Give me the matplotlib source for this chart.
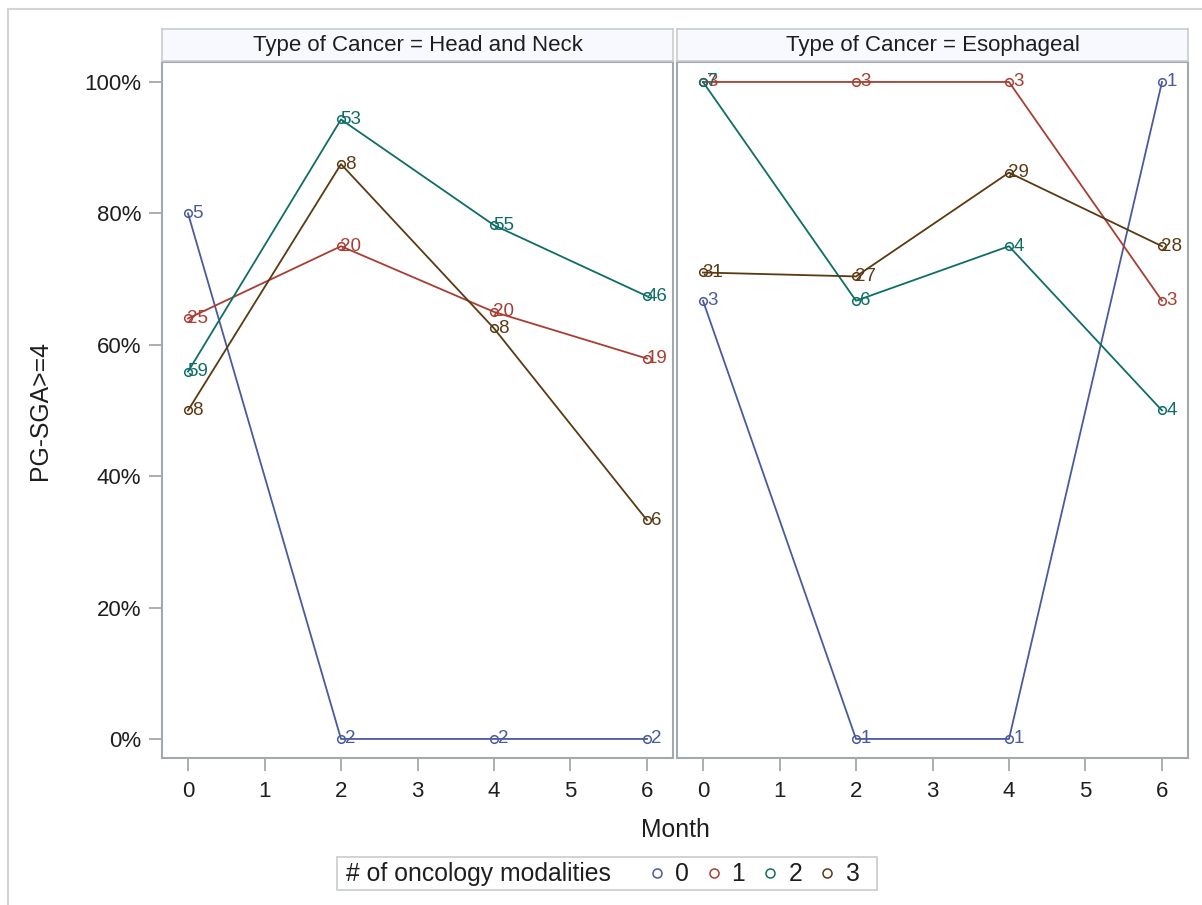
"""
Panel line chart: share of patients with PG-SGA>=4 by month, per cancer type.
"""
import matplotlib
matplotlib.use("Agg")
import matplotlib.pyplot as plt
from matplotlib.lines import Line2D
from matplotlib.patches import Rectangle
from matplotlib.ticker import PercentFormatter
from matplotlib.offsetbox import (AnchoredOffsetbox, DrawingArea, HPacker,
                                  TextArea)

plt.rcParams['font.family'] = ['Liberation Sans', 'DejaVu Sans']

months = [0, 2, 4, 6]
modalities = ['0', '1', '2', '3']
colors = ['#4A5A9E', '#A83E33', '#0E6E66', '#5A3A12']
panel_titles = ['Type of Cancer = Head and Neck', 'Type of Cancer = Esophageal']

# Head and Neck: share with PG-SGA>=4 and group size per month
hn_pct_0 = [0.800, 0.000, 0.000, 0.000]
hn_n_0 = [5, 2, 2, 2]
hn_pct_1 = [0.640, 0.750, 0.650, 0.579]
hn_n_1 = [25, 20, 20, 19]
hn_pct_2 = [0.559, 0.943, 0.782, 0.674]
hn_n_2 = [59, 53, 55, 46]
hn_pct_3 = [0.500, 0.875, 0.625, 0.333]
hn_n_3 = [8, 8, 8, 6]

# Esophageal
es_pct_0 = [0.667, 0.000, 0.000, 1.000]
es_n_0 = [3, 1, 1, 1]
es_pct_1 = [1.000, 1.000, 1.000, 0.667]
es_n_1 = [3, 3, 3, 3]
es_pct_2 = [1.000, 0.667, 0.750, 0.500]
es_n_2 = [7, 6, 4, 4]
es_pct_3 = [0.710, 0.704, 0.862, 0.750]
es_n_3 = [31, 27, 29, 28]

panels = [
    [(hn_pct_0, hn_n_0), (hn_pct_1, hn_n_1), (hn_pct_2, hn_n_2), (hn_pct_3, hn_n_3)],
    [(es_pct_0, es_n_0), (es_pct_1, es_n_1), (es_pct_2, es_n_2), (es_pct_3, es_n_3)],
]

W, H = 1202, 905
frame_col = '#A3A8AE'
text_col = '#1E1E1E'
value_size = 16
label_size = 17.8
fig = plt.figure(figsize=(W / 100, H / 100), dpi=100)

# light outer border
fig.add_artist(Rectangle((8 / W, -0.05), 1.1, 1 - 9 / H + 0.05,
                         transform=fig.transFigure, fill=False,
                         edgecolor='#D4D4D4', linewidth=1.5))

lefts = [162, 677]
pw = 511
for i, (left, series) in enumerate(zip(lefts, panels)):
    ax = fig.add_axes([left / W, 1 - 758 / H, pw / W, (758 - 62) / H])
    for (pct, n), col in zip(series, colors):
        ax.plot(months, pct, color=col, linewidth=1.3, marker='o',
                markersize=5.5, markerfacecolor='none', markeredgewidth=1.1)
        for m, p, k in zip(months, pct, n):
            ax.annotate(str(k), (m, p), xytext=(7, 0), textcoords='offset points',
                        ha='center', va='center', color=col, fontsize=13.5)
    ax.set_xlim(-0.34, 6.34)
    ax.set_ylim(-0.029, 1.0304)
    ax.set_xticks(range(7))
    ax.set_yticks([0, 0.2, 0.4, 0.6, 0.8, 1.0])
    ax.yaxis.set_major_formatter(PercentFormatter(1.0, decimals=0))
    ax.tick_params(length=9.5, width=1.3, color=frame_col, labelsize=value_size,
                   labelcolor=text_col)
    ax.tick_params(axis='x', pad=7)
    ax.tick_params(axis='y', pad=5.5)
    for sp in ax.spines.values():
        sp.set_color(frame_col)
        sp.set_linewidth(1.5)
    if i == 1:
        ax.tick_params(axis='y', left=False, labelleft=False)

    # strip header
    sax = fig.add_axes([left / W, 1 - 61 / H, pw / W, 32 / H])
    sax.set_facecolor('#F8F9FE')
    sax.set_xticks([])
    sax.set_yticks([])
    for sp in sax.spines.values():
        sp.set_color('#C8CCD0')
        sp.set_linewidth(1.2)
    sax.text(0.5, 0.47, panel_titles[i], ha='center', va='center',
             fontsize=value_size, color=text_col, transform=sax.transAxes)

fig.text(40 / W, 1 - 410 / H, 'PG-SGA>=4', rotation=90, ha='center',
         va='center', fontsize=label_size, color=text_col)
fig.text(675 / W, 1 - 830 / H, 'Month', ha='center', va='center',
         fontsize=label_size, color=text_col)

# legend: title on the left, then markers with labels
entries = []
for lab, col in zip(modalities, colors):
    da = DrawingArea(10, 10, 0, 0)
    da.add_artist(Line2D([5], [5], marker='o', markersize=6.5,
                         markerfacecolor='none', markeredgecolor=col,
                         markeredgewidth=1.1, linestyle='none'))
    txt = TextArea(lab, textprops=dict(fontsize=label_size, color=text_col))
    entries.append(HPacker(children=[da, txt], pad=0, sep=8, align='center'))
title = TextArea('# of oncology modalities',
                 textprops=dict(fontsize=label_size, color=text_col))
inner = HPacker(children=[title,
                          HPacker(children=entries, pad=0, sep=13, align='center')],
                pad=0, sep=28, align='center')
row = HPacker(children=[DrawingArea(3, 10, 0, 0), inner, DrawingArea(9.5, 10, 0, 0)],
              pad=0, sep=0, align='center')
anch = AnchoredOffsetbox(loc='center', child=row, pad=0.35, borderpad=0,
                         frameon=True, bbox_to_anchor=(607 / W, 1 - 873.5 / H),
                         bbox_transform=fig.transFigure)
anch.patch.set_edgecolor('#C8CCD0')
anch.patch.set_linewidth(1.2)
anch.patch.set_boxstyle('square', pad=0)
fig.add_artist(anch)

fig.savefig('out.png', dpi=100)
